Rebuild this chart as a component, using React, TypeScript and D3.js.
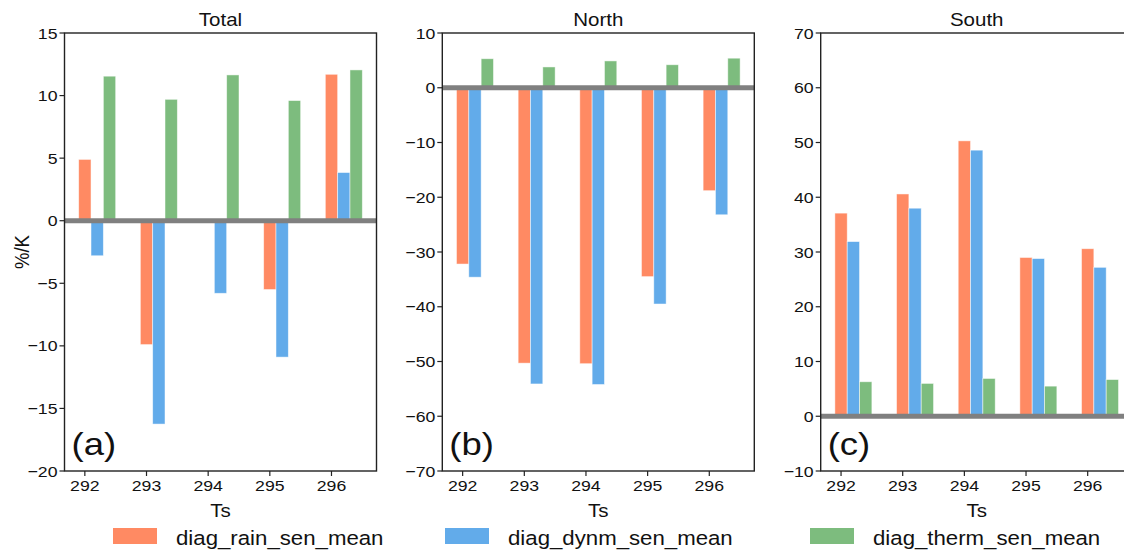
import React from "react";
import * as d3 from "d3";

// Ts values on the x axis
const TS = [292, 293, 294, 295, 296];

// Total
const TOTAL_RAIN = [4.9, -9.9, 0, -5.5, 11.7];
const TOTAL_DYNM = [-2.8, -16.25, -5.8, -10.9, 3.85];
const TOTAL_THERM = [11.55, 9.7, 11.65, 9.6, 12.05];
// North
const NORTH_RAIN = [-32.2, -50.3, -50.4, -34.5, -18.8];
const NORTH_DYNM = [-34.6, -54.1, -54.2, -39.5, -23.2];
const NORTH_THERM = [5.3, 3.8, 4.9, 4.2, 5.4];
// South
const SOUTH_RAIN = [37.1, 40.6, 50.3, 29.0, 30.6];
const SOUTH_DYNM = [31.9, 38.0, 48.6, 28.8, 27.2];
const SOUTH_THERM = [6.3, 6.0, 6.9, 5.5, 6.7];

const SERIES_NAMES = ["diag_rain_sen_mean", "diag_dynm_sen_mean", "diag_therm_sen_mean"];
const COLORS = ["#ff8a63", "#62abea", "#7dbc7e"];

const PANELS = [
  { title: "Total", tag: "(a)", domain: [-20, 15], step: 5, series: [TOTAL_RAIN, TOTAL_DYNM, TOTAL_THERM] },
  { title: "North", tag: "(b)", domain: [-70, 10], step: 10, series: [NORTH_RAIN, NORTH_DYNM, NORTH_THERM] },
  { title: "South", tag: "(c)", domain: [-10, 70], step: 10, series: [SOUTH_RAIN, SOUTH_DYNM, SOUTH_THERM] },
];

const W = 1124;
const H = 550;
const LEFTS = [64.5, 442.3, 820.7];
const PW = 312;
const TOP = 33;
const BOTTOM = 471;
const SX = 1.14; // the picture is a bit wider than tall
const FONT = "'Liberation Sans', Arial, Helvetica, sans-serif";
const BARW = 0.2;

function SText({ x, y, size, anchor = "start", rotate = 0, children }: any) {
  return (
    <text
      transform={`translate(${x},${y}) scale(${SX},1)` + (rotate ? ` rotate(${rotate})` : "")}
      fontSize={size}
      textAnchor={anchor}
      fill="#111"
      fontFamily={FONT}
    >
      {children}
    </text>
  );
}

function Panel({ p, left }: any) {
  const x = d3.scaleLinear().domain([291.67, 296.73]).range([left, left + PW]);
  const y = d3.scaleLinear().domain(p.domain).range([BOTTOM, TOP]);
  const yTicks = d3.range(p.domain[0], p.domain[1] + 0.001, p.step);
  const fmt = d3.format("d");
  return (
    <g>
      {p.series.map((vals: number[], si: number) =>
        vals.map((v, i) => {
          const cx = TS[i] + si * BARW;
          const x0 = x(cx - BARW / 2);
          const x1 = x(cx + BARW / 2);
          return (
            <rect
              key={si + "-" + i}
              x={x0}
              width={x1 - x0}
              y={Math.min(y(v), y(0))}
              height={Math.abs(y(v) - y(0))}
              fill={COLORS[si]}
              stroke="#ffffff"
              strokeOpacity={0.6}
              strokeWidth={0.8}
            />
          );
        })
      )}
      <line x1={left} x2={left + PW} y1={y(0)} y2={y(0)} stroke="#808080" strokeWidth={5} />
      <rect x={left} y={TOP} width={PW} height={BOTTOM - TOP} fill="none" stroke="#222" strokeWidth={1.4} />
      {yTicks.map((t) => (
        <g key={t}>
          <line x1={left - 5} x2={left} y1={y(t)} y2={y(t)} stroke="#222" strokeWidth={1.2} />
          <SText x={left - 7} y={y(t) + 5.5} size={15.5} anchor="end">
            {fmt(t)}
          </SText>
        </g>
      ))}
      {TS.map((t) => (
        <g key={t}>
          <line x1={x(t)} x2={x(t)} y1={BOTTOM} y2={BOTTOM + 5} stroke="#222" strokeWidth={1.2} />
          <SText x={x(t)} y={BOTTOM + 20} size={15.5} anchor="middle">
            {t}
          </SText>
        </g>
      ))}
      <SText x={left + PW / 2} y={26} size={18} anchor="middle">
        {p.title}
      </SText>
      <SText x={left + PW / 2} y={516.5} size={18} anchor="middle">
        Ts
      </SText>
      <SText x={left + 7} y={455} size={32}>
        {p.tag}
      </SText>
    </g>
  );
}

const LEGEND_X = [113, 445, 810];

export default function App() {
  return (
    <svg width={W} height={H} style={{ position: "absolute", left: 0, top: 0, background: "#fff" }}>
      <rect width={W} height={H} fill="#fff" />
      {PANELS.map((p, i) => (
        <Panel key={p.title} p={p} left={LEFTS[i]} />
      ))}
      <SText x={29} y={(TOP + BOTTOM) / 2} size={18.5} anchor="middle" rotate={-90}>
        %/K
      </SText>
      {SERIES_NAMES.map((name, i) => (
        <g key={name}>
          <rect x={LEGEND_X[i]} y={528} width={44} height={16} fill={COLORS[i]} />
          <SText x={LEGEND_X[i] + 63} y={545} size={19.5}>
            {name}
          </SText>
        </g>
      ))}
    </svg>
  );
}
